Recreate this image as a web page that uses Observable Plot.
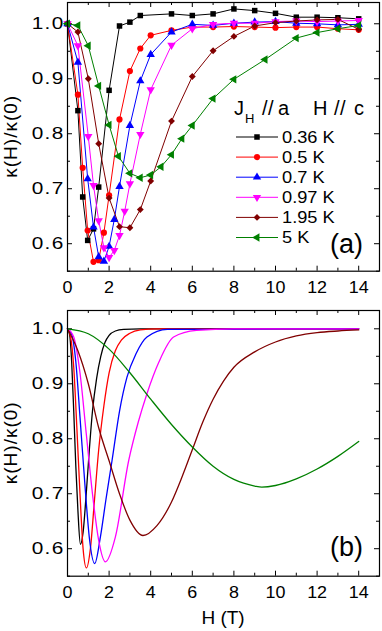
<!DOCTYPE html>
<html><head><meta charset="utf-8">
<script src="https://cdn.jsdelivr.net/npm/d3@7"></script>
<script src="https://cdn.jsdelivr.net/npm/@observablehq/plot@0.6"></script>
<style>
body{margin:0;background:#fff;font-family:"Liberation Sans",Arial,sans-serif;}
#wrap{position:relative;width:382px;height:631px;overflow:hidden;}
#wrap svg{position:absolute;left:0;}
</style></head><body><div id="wrap"></div>
<script>
// ---- series labels / colours ----
const temps = ["0.36 K","0.5 K","0.7 K","0.97 K","1.95 K","5 K"];
const colors = ["#000000","#ff0000","#0000ff","#ff00ff","#800000","#008000"];

// ---- panel (a): measured points ----
const Ha_036 = [0,0.5,0.73,0.97,1.25,1.5,2,2.5,3,3.5,5,6,7,8,9,10,11,12,13,14];
const Ka_036 = [1.0,0.842,0.685,0.606,0.627,0.703,0.879,0.996,1.003,1.015,1.018,1.015,1.018,1.027,1.024,1.019,1.012,1.012,1.011,1.009];
const Ha_05 = [0,0.5,0.73,0.97,1.25,1.5,1.75,2,2.5,3,3.5,4,5,6,7,8,9,10,11,12,13,14];
const Ka_05 = [1.0,0.871,0.738,0.624,0.567,0.570,0.620,0.688,0.826,0.914,0.955,0.979,0.988,0.994,0.994,0.995,0.994,0.993,0.994,0.994,0.991,0.989];
const Ha_07 = [0,0.5,0.97,1.25,1.5,1.75,2,2.25,2.5,3,3.5,4,5,6,7,8,9,10,11,12,13,14];
const Ka_07 = [1.0,0.930,0.718,0.630,0.576,0.568,0.595,0.644,0.704,0.815,0.896,0.944,0.985,0.999,0.997,1.001,1.003,1.004,1.001,1.0,0.998,0.999];
const Ha_097 = [0,0.5,1,1.25,1.5,1.75,2,2.25,2.5,2.75,3,3.5,4,5,6,7,8,9,10,11,12,13,14];
const Ka_097 = [1.0,0.960,0.795,0.706,0.642,0.593,0.575,0.588,0.615,0.659,0.709,0.799,0.880,0.961,0.991,0.999,1.001,1.001,1.004,1.005,1.004,1.005,1.006];
const Ha_195 = [0,0.5,1,1.5,2,2.5,3,3.5,4,5,6,7,8,9,10,11,12,13,14];
const Ka_195 = [1.0,0.985,0.900,0.782,0.683,0.631,0.629,0.662,0.714,0.823,0.904,0.951,0.977,0.996,1.002,1.005,1.007,1.008,0.990];
const Ha_5 = [0,0.5,1,1.5,2,2.45,3,3.5,4,4.5,5,5.5,6,7,8,9.5,11,12,13,14];
const Ka_5 = [1.0,0.997,0.960,0.887,0.816,0.759,0.728,0.720,0.725,0.740,0.762,0.791,0.815,0.864,0.899,0.935,0.974,0.984,0.991,0.997];

// ---- panel (b): points ----
const Hb_036 = [0,0.1,0.2,0.3,0.4,0.5,0.62,0.75,0.9,1.05,1.2,1.4,1.6,1.8,2.0,2.3,2.7,3.5,14];
const Kb_036 = [1,0.99,0.94,0.85,0.75,0.67,0.608,0.63,0.70,0.78,0.85,0.91,0.95,0.975,0.988,0.996,0.999,1,1];
const Hb_05 = [0,0.15,0.3,0.45,0.6,0.75,0.91,1.1,1.3,1.5,1.75,2.0,2.3,2.6,3.0,3.5,4.3,14];
const Kb_05 = [1,0.985,0.93,0.82,0.70,0.60,0.565,0.60,0.69,0.78,0.86,0.92,0.96,0.98,0.992,0.998,1,1];
const Hb_07 = [0,0.2,0.4,0.6,0.85,1.05,1.31,1.58,1.85,2.14,2.5,2.86,3.3,3.82,4.8,14];
const Kb_07 = [1,0.99,0.94,0.84,0.71,0.62,0.573,0.621,0.69,0.76,0.85,0.912,0.955,0.985,0.999,1];
const Hb_097 = [0,0.3,0.6,0.9,1.2,1.5,1.82,2.3,2.94,3.4,3.82,4.4,5.1,6.2,8,14];
const Kb_097 = [1,0.985,0.92,0.81,0.70,0.615,0.576,0.621,0.76,0.83,0.882,0.94,0.985,0.997,1,1];
const Hb_195 = [0,0.5,1,1.5,2,2.5,3,3.63,4.3,5,5.5,6,6.5,7,7.5,8,9,10,11,12,13,14];
const Kb_195 = [1,0.96,0.90,0.82,0.76,0.70,0.652,0.624,0.642,0.685,0.73,0.78,0.83,0.872,0.905,0.93,0.958,0.976,0.987,0.993,0.996,0.998];
const Hb_5 = [0,1,2,3,4,5,6,7,8,9,9.34,10,11,12,13,14];
const Kb_5 = [1,0.991,0.963,0.92,0.872,0.826,0.785,0.75,0.726,0.714,0.712,0.715,0.727,0.745,0.768,0.795];

// ---- ticks ----
const xMajor = [0,2,4,6,8,10,12,14];
const xMinor = [1,3,5,7,9,11,13];
const yMajor = [0.6,0.7,0.8,0.9,1.0];
const yMinor = [0.55,0.65,0.75,0.85,0.95];

// ---- symbols ----
const sq3 = Math.sqrt(3);
const triDown = {draw(ctx, size){const y=-Math.sqrt(size/(sq3*3)); ctx.moveTo(0,-2*y); ctx.lineTo(-sq3*y,y); ctx.lineTo(sq3*y,y); ctx.closePath();}};
const triLeft = {draw(ctx, size){const y=-Math.sqrt(size/(sq3*3)); ctx.moveTo(2*y,0); ctx.lineTo(-y,-sq3*y); ctx.lineTo(-y,sq3*y); ctx.closePath();}};
const symbols = [d3.symbolSquare, d3.symbolCircle, d3.symbolTriangle, triDown, d3.symbolDiamond2, triLeft];

const rows = (Hs, Ks) => temps.flatMap((t,i) => Hs[i].map((h,j) => ({T:t, H:h, k:Ks[i][j]})));
const rowsA = rows([Ha_036,Ha_05,Ha_07,Ha_097,Ha_195,Ha_5],[Ka_036,Ka_05,Ka_07,Ka_097,Ka_195,Ka_5]);
const rowsB = rows([Hb_036,Hb_05,Hb_07,Hb_097,Hb_195,Hb_5],[Kb_036,Kb_05,Kb_07,Kb_097,Kb_195,Kb_5]);

const W = 382, ML = 67, MR = 3;
const innerW = W - ML - MR;
const fontFam = "Liberation Sans, Arial, sans-serif";

function stretch(svg, sel, k) {
  svg.querySelectorAll(sel).forEach(t => {
    const tr = t.getAttribute("transform") || "";
    t.setAttribute("transform", (tr + ` scale(${k},1)`).trim());
  });
}

function panel({height, mt, mb, yDomain, data, dots, curve}) {
  const innerH = height - mt - mb;
  const marks = [
    Plot.tickX(xMajor, {x: d=>d, insetTop: innerH-5, stroke:"black"}),
    Plot.tickX(xMajor, {x: d=>d, insetBottom: innerH-5, stroke:"black"}),
    Plot.tickX(xMinor, {x: d=>d, insetTop: innerH-3, stroke:"black"}),
    Plot.tickX(xMinor, {x: d=>d, insetBottom: innerH-3, stroke:"black"}),
    Plot.tickY(yMajor, {y: d=>d, insetRight: innerW-5, stroke:"black"}),
    Plot.tickY(yMajor, {y: d=>d, insetLeft: innerW-5, stroke:"black"}),
    Plot.tickY(yMinor, {y: d=>d, insetRight: innerW-3, stroke:"black"}),
    Plot.tickY(yMinor, {y: d=>d, insetLeft: innerW-3, stroke:"black"}),
    Plot.line(data, {x:"H", y:"k", z:"T", stroke:"T", strokeWidth: dots ? 1 : 1.3, curve})
  ];
  if (dots) temps.forEach((t,i) => {
    marks.push(Plot.dot(data.filter(d=>d.T===t), {x:"H", y:"k", fill: colors[i], stroke:"none", r:3.1, symbol: symbols[i]}));
  });
  marks.push(Plot.frame({stroke:"black", strokeWidth:1.2}));
  const svg = Plot.plot({
    width: W, height, marginLeft: ML, marginRight: MR, marginTop: mt, marginBottom: mb,
    style: {fontFamily: fontFam, fontSize: "16px", color:"black", background:"transparent"},
    x: {domain:[0,15], ticks: xMajor, tickSize: 0, tickPadding: 10, label: null},
    y: {domain: yDomain, ticks: yMajor, tickSize: 0, tickPadding: 3, tickFormat: d3.format(".1f"), label: null},
    color: {domain: temps, range: colors},
    marks
  });
  stretch(svg, '[aria-label^="x-axis"] text', 1.12);
  svg.querySelectorAll('[aria-label^="y-axis"] text').forEach(t => t.setAttribute("letter-spacing","1px"));
  stretch(svg, '[aria-label^="y-axis"] text', 1.3);
  return svg;
}

const wrap = document.getElementById("wrap");
const pa = panel({height:300, mt:2, mb:29.3, yDomain:[0.55,1.0387], data: rowsA, dots:true, curve:"linear"});
pa.style.top = "0px";
wrap.appendChild(pa);
const pb = panel({height:331, mt:10, mb:55.3, yDomain:[0.55,1.0333], data: rowsB, dots:false, curve:"monotone-x"});
pb.style.top = "300px";
wrap.appendChild(pb);

// ---- overlay: titles, legend, panel letters ----
const ov = d3.select(wrap).append("svg").attr("width",W).attr("height",631).style("top","0px")
  .style("font-family", fontFam).style("pointer-events","none");
const txt = (x, y, s, size, anchor="start", k=1) =>
  ov.append("text").attr("transform",`translate(${x},${y}) scale(${k},1)`).attr("text-anchor",anchor).attr("font-size",size).text(s);
[136.3, 442.8].forEach(cy => {
  ov.append("text").attr("transform",`translate(17,${cy}) rotate(-90)`).attr("text-anchor","middle")
    .attr("font-size",19).attr("letter-spacing","1px").text("κ(H)/κ(0)");
});
txt(223, 624, "H (T)", 19, "middle");
txt(363, 253, "(a)", 27, "end");
txt(363, 556, "(b)", 27, "end");
// legend header
txt(234, 115, "J", 20);
txt(245, 123, "H", 13);
txt(262, 115, "/", 20);
txt(268, 115, "/", 20);
txt(278, 115, "a", 20);
txt(313, 115, "H", 20);
txt(334, 115, "/", 20);
txt(340, 115, "/", 20);
txt(354, 115, "c", 20);
temps.forEach((t,i) => {
  const y = 137 + i*20.1;
  ov.append("line").attr("x1",236).attr("x2",278).attr("y1",y).attr("y2",y).attr("stroke",colors[i]).attr("stroke-width",1);
  ov.append("path").attr("d", d3.symbol(symbols[i], Math.PI*3.1*3.1)()).attr("transform",`translate(257,${y})`).attr("fill",colors[i]);
  txt(282, y+5.7, t, 16, "start", 1.14);
});
</script></body></html>
